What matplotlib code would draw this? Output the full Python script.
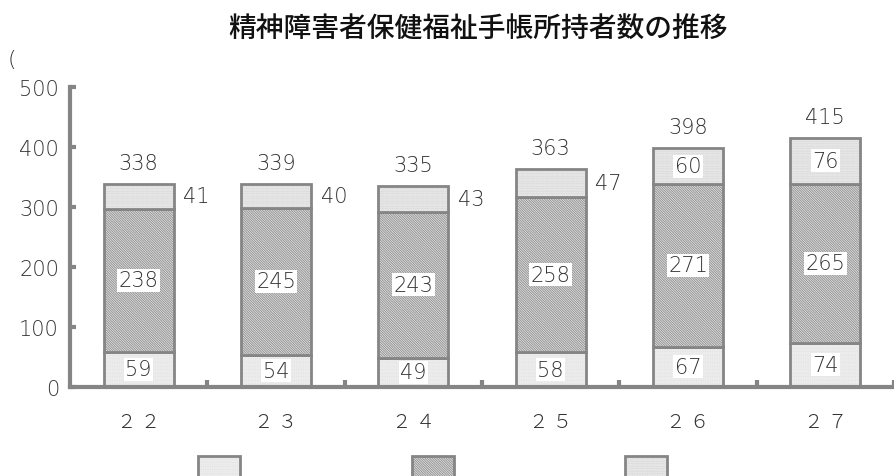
import numpy as np
import matplotlib
matplotlib.use("Agg")
import matplotlib.pyplot as plt
from matplotlib.patches import Rectangle

plt.rcParams['font.family'] = ['Noto Sans CJK JP', 'DejaVu Sans']
plt.rcParams['hatch.linewidth'] = 0.7

# 年度（平成）
years = ['２２', '２３', '２４', '２５', '２６', '２７']
grade1 = [59, 54, 49, 58, 67, 74]
grade2 = [238, 245, 243, 258, 271, 265]
grade3 = [41, 40, 43, 47, 60, 76]
totals = [338, 339, 335, 363, 398, 415]

gray = '#858585'
numfont = dict(family='DejaVu Sans', fontweight='light', color='#333333')
x = np.arange(len(years))
w = 0.51

# 塗り（ハッチ）の設定: 面の色, ハッチの色, ハッチ
styles = [('white', '#d4d4d4', '.' * 12),
          ('#e8e8e8', '#949494', '\\' * 14),
          ('#f0f0f0', '#cfcfcf', '.' * 10)]

fig = plt.figure(figsize=(8.94, 4.77), dpi=100)
ax = fig.add_axes([70 / 894, 1 - 388 / 477, 1 - 70 / 894, 300 / 477])

bottom = np.zeros(len(years))
for vals, (fc, hc, h) in zip([grade1, grade2, grade3], styles):
    ax.bar(x, vals, w, bottom=bottom, color=fc, edgecolor=hc, hatch=h, linewidth=0)
    ax.bar(x, vals, w, bottom=bottom, fill=False, edgecolor=gray, linewidth=2)
    bottom = bottom + np.array(vals)

box = dict(facecolor='white', edgecolor='none', pad=1)
fs = 15
bot3 = np.array(grade1) + np.array(grade2)
for i in x:
    ax.text(i, grade1[i] / 2, str(grade1[i]), ha='center', va='center',
            fontsize=fs, bbox=box, **numfont)
    ax.text(i, grade1[i] + grade2[i] / 2, str(grade2[i]), ha='center', va='center',
            fontsize=fs, bbox=box, **numfont)
    ymid = bot3[i] + grade3[i] / 2
    if grade3[i] < 55:
        ax.annotate(str(grade3[i]), (i + w / 2, ymid), xytext=(7, 0),
                    textcoords='offset points', ha='left', va='center',
                    fontsize=fs, **numfont)
    else:
        ax.text(i, ymid, str(grade3[i]), ha='center', va='center',
                fontsize=fs, bbox=box, **numfont)
    ax.annotate(str(totals[i]), (i, totals[i]), xytext=(0, 15),
                textcoords='offset points', ha='center', va='center',
                fontsize=fs, **numfont)

ax.set_xlim(-0.5, 5.5)
ax.set_ylim(0, 500)
ax.set_yticks(range(0, 501, 100))
ax.set_xticks(x)
ax.set_xticklabels([' '.join(y) for y in years])
ax.set_xticks(np.arange(0.5, 5.6, 1), minor=True)
ax.tick_params(axis='x', which='major', length=0, pad=17)
ax.tick_params(axis='x', which='minor', direction='in', length=5, width=3, color=gray)
ax.tick_params(axis='y', direction='in', length=4, width=3, color=gray, pad=8)
for lab in ax.get_xticklabels():
    lab.set(fontsize=14, fontweight='light', color='#333333')
for lab in ax.get_yticklabels():
    lab.set(fontsize=15, **numfont)
for s in ['top', 'right']:
    ax.spines[s].set_visible(False)
for s in ['left', 'bottom']:
    ax.spines[s].set_color(gray)
    ax.spines[s].set_linewidth(3)

fig.text(478 / 894, 1 - 29 / 477, '精神障害者保健福祉手帳所持者数の推移', ha='center', va='center',
         fontsize=20, fontweight='medium', color='#111111')
fig.text(8 / 894, 1 - 60 / 477, '(', ha='left', va='center', fontsize=16, **numfont)

# 凡例
for cx, (fc, hc, h) in zip([219, 433, 646], styles):
    xy = ((cx - 21) / 894, -0.05)
    hgt = (477 - 457) / 477 + 0.05
    fig.add_artist(Rectangle(xy, 42 / 894, hgt, transform=fig.transFigure,
                             facecolor=fc, edgecolor=hc, hatch=h, linewidth=0))
    fig.add_artist(Rectangle(xy, 42 / 894, hgt, transform=fig.transFigure,
                             fill=False, edgecolor=gray, linewidth=2))

fig.savefig('out.png', dpi=100)
